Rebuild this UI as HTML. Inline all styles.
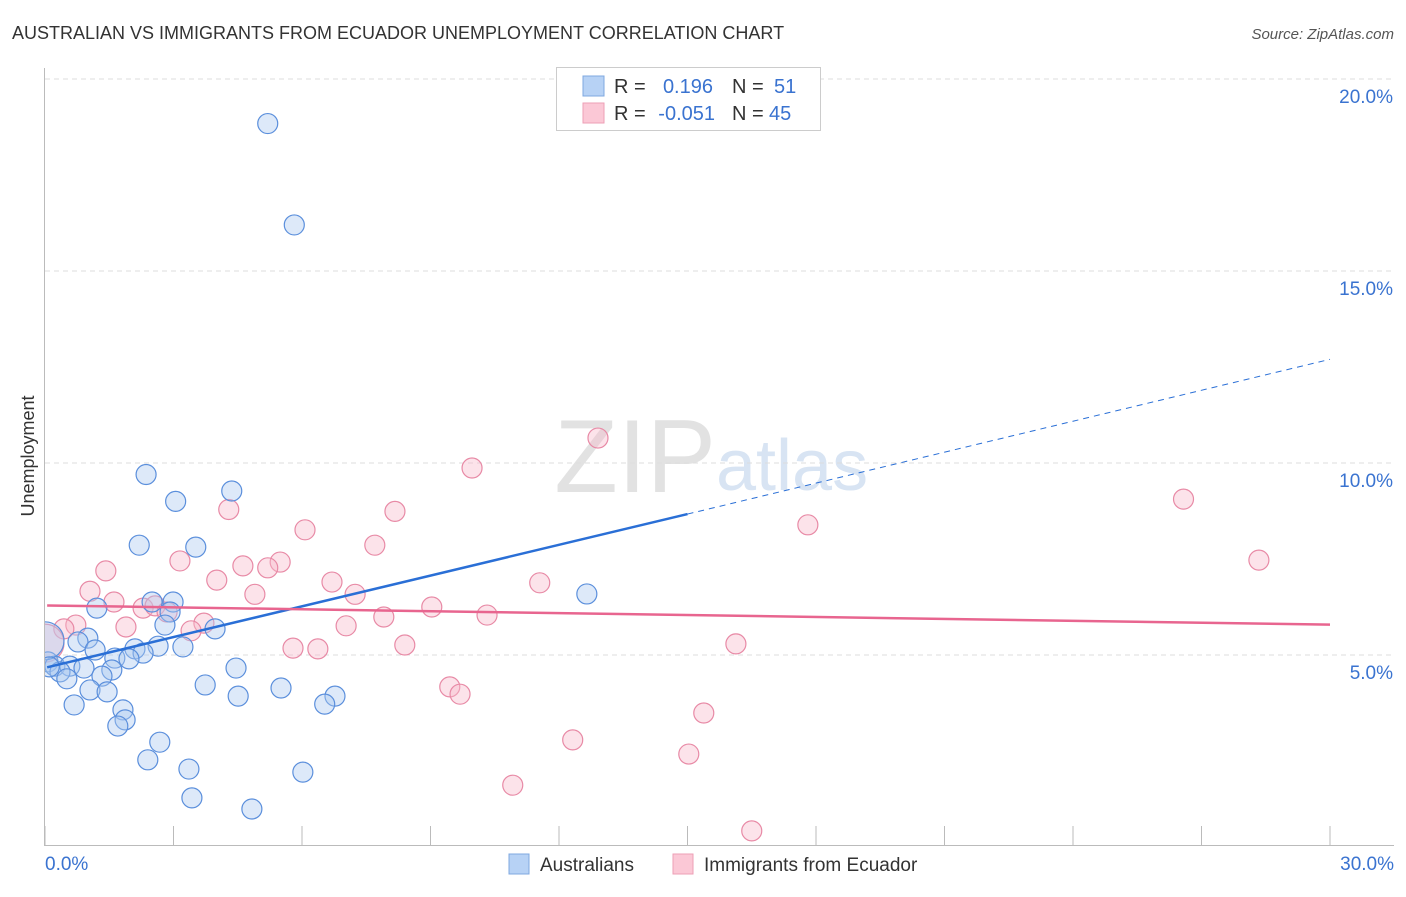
<!DOCTYPE html>
<html><head><meta charset="utf-8"><style>
body{margin:0;background:#fff;font-family:"Liberation Sans",sans-serif;}
svg text{font-family:"Liberation Sans",sans-serif;}
</style></head><body>
<svg id="chart" width="1406" height="892" xmlns="http://www.w3.org/2000/svg">
<defs><clipPath id="plotclip"><rect x="45" y="60" width="1360" height="786"/></clipPath></defs>
<text x="12" y="39" font-size="18" fill="#333">AUSTRALIAN VS IMMIGRANTS FROM ECUADOR UNEMPLOYMENT CORRELATION CHART</text>
<text x="1394" y="39" font-size="15" fill="#555" font-style="italic" text-anchor="end">Source: ZipAtlas.com</text>
<text x="716" y="492" font-size="104" fill="#e2e2e2" font-family="Liberation Serif" text-anchor="end">ZIP</text>
<text x="716" y="490" font-size="72" fill="#d8e4f3">atlas</text>
<text transform="translate(34,456) rotate(-90)" font-size="18" fill="#333" text-anchor="middle">Unemployment</text>
<g id="grid"></g><g id="axes"></g><g id="pts" clip-path="url(#plotclip)"></g><g id="lines"></g>
<g>
<rect x="556.5" y="67.5" width="264" height="63" fill="#fff" stroke="#ccc"/>
<rect x="583" y="76" width="21" height="20" fill="#b7d2f5" stroke="#7fa8e0"/>
<rect x="583" y="103" width="21" height="20" fill="#fbc8d6" stroke="#ee9fb6"/>
<text x="614" y="93" font-size="20" fill="#333">R =</text>
<text x="713" y="93" font-size="20" fill="#3a73d0" text-anchor="end">0.196</text>
<text x="732" y="93" font-size="20" fill="#333">N =</text>
<text x="774" y="93" font-size="20" fill="#3a73d0">51</text>
<text x="614" y="120" font-size="20" fill="#333">R =</text>
<text x="715" y="120" font-size="20" fill="#3a73d0" text-anchor="end">-0.051</text>
<text x="732" y="120" font-size="20" fill="#333">N =</text>
<text x="769" y="120" font-size="20" fill="#3a73d0">45</text>
</g>
<g>
<rect x="509" y="854" width="20" height="20" fill="#b7d2f5" stroke="#7fa8e0"/>
<text x="540" y="871" font-size="19" fill="#333">Australians</text>
<rect x="673" y="854" width="20" height="20" fill="#fbc8d6" stroke="#ee9fb6"/>
<text x="704" y="871" font-size="19" fill="#333">Immigrants from Ecuador</text>
</g>
</svg>
<script>
const xTicks=[0,3,6,9,12,15,18,21,24,27,30];
const yTicks=[5,10,15,20];
const yTickLabels=["5.0%","10.0%","15.0%","20.0%"];
const blueX=[5.2,5.82,2.36,3.05,4.36,2.2,3.52,12.65,2.5,2.99,1.21,2.92,2.8,3.97,1.0,0.77,1.17,2.64,3.22,2.1,2.29,1.63,1.96,0.07,0.23,0.58,0.91,0.35,1.56,4.46,0.51,1.33,1.05,1.45,3.74,5.51,4.51,6.77,6.53,0.68,1.82,1.87,1.7,2.68,2.4,3.36,6.02,3.43,4.83,0.0,0.1];
const blueY=[18.84,16.2,9.7,9.0,9.27,7.86,7.81,6.59,6.38,6.38,6.22,6.12,5.78,5.68,5.44,5.34,5.13,5.23,5.21,5.16,5.05,4.92,4.9,4.82,4.71,4.71,4.66,4.56,4.61,4.66,4.38,4.45,4.09,4.04,4.22,4.14,3.93,3.93,3.72,3.7,3.57,3.31,3.15,2.73,2.27,2.03,1.95,1.28,0.99,5.37,4.69];
const pinkX=[12.91,9.97,26.58,4.29,8.17,6.07,17.81,7.7,3.15,28.34,1.42,4.62,5.49,5.2,4.01,6.7,11.55,1.05,4.9,7.24,1.61,2.29,2.57,9.03,10.32,7.91,3.71,3.41,1.89,0.72,0.44,7.03,5.79,6.37,8.4,16.13,9.45,9.69,15.38,12.32,15.03,10.92,16.5,0.0,2.85];
const pinkY=[10.65,9.87,9.06,8.79,8.74,8.26,8.39,7.86,7.45,7.47,7.19,7.32,7.42,7.27,6.95,6.9,6.88,6.66,6.58,6.58,6.38,6.22,6.28,6.25,6.04,5.99,5.83,5.63,5.73,5.78,5.68,5.76,5.18,5.16,5.26,5.29,4.17,3.98,3.49,2.79,2.42,1.61,0.42,5.31,6.12];
const blueTrend=[0.05,4.68,15.0,8.67,30.0,12.7];
const pinkTrend=[0.05,6.29,30.0,5.79];
const NS="http://www.w3.org/2000/svg";
const X0=45,X1=1330,YB=847,PY=38.4;
const sx=v=>X0+(X1-X0)*v/30, sy=v=>YB-v*PY;
function mk(tag,attrs,parent){const e=document.createElementNS(NS,tag);for(const k in attrs)e.setAttribute(k,attrs[k]);document.getElementById(parent).appendChild(e);return e;}
yTicks.forEach((t,i)=>{
 const g=mk('line',{x1:45,x2:1394,y1:sy(t),y2:sy(t),stroke:'#ddd','stroke-dasharray':'5,4'},'grid');
 
 
 const tx=mk('text',{x:1393,y:sy(t)+24,'font-size':19,fill:'#3a73d0','text-anchor':'end'},'axes');
 tx.textContent=yTickLabels[i];
 
 
});
const topg=mk('line',{x1:45,x2:1394,y1:79,y2:79,stroke:'#ddd','stroke-dasharray':'5,4'},'grid');


const ya=mk('line',{x1:44.5,x2:44.5,y1:68,y2:846,stroke:'#bbb'},'axes');


const xa=mk('line',{x1:45,x2:1394,y1:845.5,y2:845.5,stroke:'#bbb'},'axes');


xTicks.forEach(t=>{
 const l=mk('line',{x1:sx(t),x2:sx(t),y1:826,y2:846,stroke:'#bbb'},'axes');
 
 
});
const xl0=mk('text',{x:45,y:870,'font-size':19,fill:'#3a73d0'},'axes');xl0.textContent='0.0%';


const xl1=mk('text',{x:1394,y:870,'font-size':19,fill:'#3a73d0','text-anchor':'end'},'axes');xl1.textContent='30.0%';


function pts(xs,ys,fill,stroke,name,bigIdx){xs.forEach((x,i)=>{
 const big=i===bigIdx;
 const c=mk('circle',{cx:sx(x),cy:sy(ys[i]),r:big?19:10,fill:fill,'fill-opacity':0.4,stroke:stroke,'stroke-width':1.2},'pts');
 
 
});}
pts(pinkX,pinkY,'#f8b8cb','#e88aa6','pink-point',43);
pts(blueX,blueY,'#a9c8f0','#5b8fdc','blue-point',49);
const b1=mk('line',{x1:sx(blueTrend[0]),y1:sy(blueTrend[1]),x2:sx(blueTrend[2]),y2:sy(blueTrend[3]),stroke:'#2a6fd6','stroke-width':2.5},'lines');


const b2=mk('line',{x1:sx(blueTrend[2]),y1:sy(blueTrend[3]),x2:sx(blueTrend[4]),y2:sy(blueTrend[5]),stroke:'#2a6fd6','stroke-width':1,'stroke-dasharray':'6,5'},'lines');


const p1=mk('line',{x1:sx(pinkTrend[0]),y1:sy(pinkTrend[1]),x2:sx(pinkTrend[2]),y2:sy(pinkTrend[3]),stroke:'#e8658f','stroke-width':2.5},'lines');


</script>
</body></html>
